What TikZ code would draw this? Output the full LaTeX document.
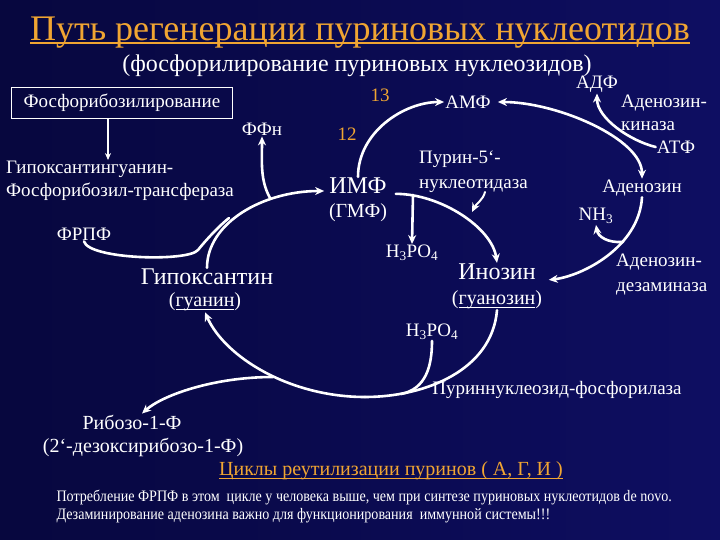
\documentclass[tikz,border=0pt]{standalone}
\usepackage{fontspec}
\setmainfont{Liberation Serif}
\newfontfamily\narrowfont[FakeStretch=0.88]{Liberation Serif}
\usetikzlibrary{arrows.meta}
\definecolor{slidebg}{RGB}{14,14,98}
\definecolor{slidedark}{RGB}{7,7,62}
\definecolor{titleorange}{RGB}{240,165,50}
\newcommand{\undl}[2][0.8pt]{\leavevmode\setbox0\hbox{#2}\dp0=0pt\vtop{\copy0\kern2pt\hrule height #1}}

\begin{document}
\begin{tikzpicture}[x=1pt,y=-1pt,
  lbl/.style={text=white,inner sep=1pt,font=\fontsize{19}{23}\selectfont},
  big/.style={text=white,inner sep=1pt,font=\fontsize{24}{28}\selectfont},
  num/.style={text=titleorange,inner sep=1pt,font=\fontsize{19}{23}\selectfont},
  flow/.style={draw=white,line width=2.6pt,line cap=round,-{Stealth[length=9pt,width=8pt]}},
  twoway/.style={flow,{Stealth[length=9pt,width=8pt]}-{Stealth[length=9pt,width=8pt]}},
  plain/.style={draw=white,line width=2.6pt,line cap=round}]
\shade[left color=slidedark,right color=slidebg] (0,0) rectangle (720,540);
\useasboundingbox (0,0) rectangle (720,540);

% titles
\node[text=titleorange,font=\fontsize{36}{40}\selectfont] (title) at (360,30)
  {\undl[1.5pt]{Путь регенерации пуриновых нуклеотидов}};
\node[text=white,font=\fontsize{24}{28}\selectfont] (sub) at (357,66) {(фосфорилирование пуриновых нуклеозидов)};

% left part
\node[lbl,draw=white,line width=1.4pt,minimum width=221pt,minimum height=31pt] (fosfo) at (122,103) {Фосфорибозилирование};
\node[lbl,align=left,anchor=west] (hgprt) at (5,181) {Гипоксантингуанин-\\Фосфорибозил-трансфераза};
\node[lbl] (ffn) at (262,129) {ФФн};
\node[lbl] (frpf) at (84,234) {ФРПФ};
\node[big] (hypox) at (207,277) {Гипоксантин};
\node[lbl,font=\fontsize{20}{24}\selectfont] (guanine) at (205,302) {(\undl{гуанин})};

% middle
\node[num] (n12) at (347,134) {12};
\node[num] (n13) at (380,95) {13};
\node[big] (imp) at (358,186) {ИМФ};
\node[lbl,font=\fontsize{20}{24}\selectfont] (gmp) at (358,213) {(ГМФ)};
\node[lbl] (amp) at (468,102) {АМФ};
\node[lbl,align=left,anchor=west,font=\fontsize{19}{25}\selectfont] (nucl) at (418,172) {Пурин-5`-\\нуклеотидаза};
\node[lbl] (h3po4a) at (412,253) {H\textsubscript{3}PO\textsubscript{4}};
\node[big] (inosine) at (497,272) {Инозин};
\node[lbl,font=\fontsize{20}{24}\selectfont] (guanosine) at (497,300) {(\undl{гуанозин})};
\node[lbl] (h3po4b) at (432,332) {H\textsubscript{3}PO\textsubscript{4}};
\node[lbl] (pnp) at (557,390) {Пуриннуклеозид-фосфорилаза};

% right part
\node[lbl] (adp) at (597,84) {АДФ};
\node[lbl,align=left,anchor=west] (kinase) at (620,113) {Аденозин-\\киназа};
\node[lbl] (atp) at (676,147) {АТФ};
\node[lbl] (adenosine) at (642,188) {Аденозин};
\node[lbl] (nh3) at (596,216) {NH\textsubscript{3}};
\node[lbl,align=left,anchor=west,font=\fontsize{19}{25}\selectfont] (deamin) at (615,275) {Аденозин-\\дезаминаза};

% bottom
\node[lbl,font=\fontsize{20}{24}\selectfont] (ribose) at (132,422) {Рибозо-1-Ф};
\node[lbl,font=\fontsize{20}{24}\selectfont] (deoxy) at (143,447) {(2`-дезоксирибозо-1-Ф)};
\node[text=titleorange,font=\fontsize{20}{24}\selectfont] (cycles) at (391,470) {\undl{Циклы реутилизации пуринов ( А, Г, И )}};
\node[text=white,align=left,anchor=west,font=\narrowfont\fontsize{16}{18}\selectfont] (note) at (53,506)
  {Потребление ФРПФ в этом\ \ цикле у человека выше, чем при синтезе пуриновых нуклеотидов de novo.\\
   Дезаминирование аденозина важно для функционирования\ \ иммунной системы!!!};

% junctions
\coordinate (ppj) at (270,198);
\coordinate (frpfbend) at (198,250);
\coordinate (frpfj) at (229,218);
\coordinate (pij) at (413,195);
\coordinate (nuct) at (485,192);
\coordinate (nucj) at (472,212);
\coordinate (nhj) at (623,242);
\coordinate (pnpj) at (365,397);
\coordinate (pnpbr) at (401,394);
\coordinate (ribj) at (273,377);

% arrows
\draw[flow,line width=1.8pt,-{Stealth[length=7pt,width=6pt]}] ([xshift=-14pt]fosfo.south) -- ([xshift=-14pt]fosfo.south |- hgprt.north);
\draw[flow,shorten >=4pt] (hypox.north) .. controls +(0,-45) and +(-65,0) .. ([yshift=-5pt]imp.west);
\draw[flow] (ppj) .. controls +(-10,-18) and +(0,25) .. (ffn.south);
\draw[plain] (frpf.south) .. controls +(5,18) and +(-10,12) .. (frpfbend) .. controls +(8,-10) and +(-10,8) .. (frpfj);
\draw[flow] (imp.north) .. controls +(0,-45) and +(-40,0) .. (amp.west);
\draw[twoway,shorten <=6pt] (amp.east) .. controls +(65,0) and +(0,-40) .. (adenosine.north);
\draw[flow] (atp.west) .. controls +(-25,-6) and +(0,25) .. (adp.south);
\draw[flow,shorten >=12pt] (adenosine.south) .. controls +(-3,50) and +(45,-5) .. (inosine.south east);
\draw[flow] (nhj) .. controls +(-15,1) and +(2,12) .. (nh3.south);
\draw[flow] ([xshift=8pt]imp.base east) .. controls +(45,0) and +(-5,-35) .. (inosine.north);
\draw[flow] (pij) -- (h3po4a.north);
\draw[flow,line width=2pt] (nuct) .. controls +(-2,8) and +(4,-8) .. (nucj);
\draw[plain] (guanosine.south) .. controls +(-5,60) and +(60,0) .. (pnpj);
\draw[flow] (pnpj) .. controls +(-75,0) and +(20,45) .. (guanine.south);
\draw[plain] (h3po4b.south) .. controls +(0,25) and +(25,-5) .. (pnpbr);
\draw[flow] (ribj) .. controls +(-60,0) and +(20,-18) .. ([xshift=10pt]ribose.north);
\end{tikzpicture}
\end{document}
